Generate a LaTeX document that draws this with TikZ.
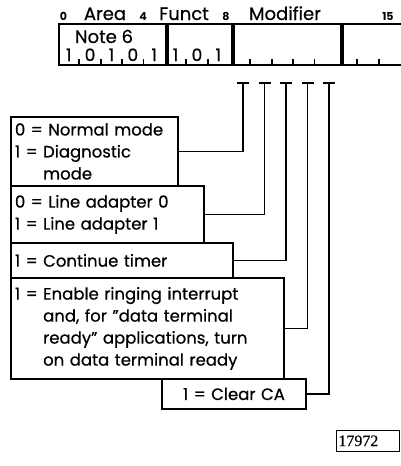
\documentclass[tikz,border=0pt]{standalone}
\usepackage{fontspec}
\setmainfont{Poppins}[UprightFeatures={FakeBold=0.6}]
\newfontfamily\numfont{Liberation Serif}[FakeBold=0.4]
\usetikzlibrary{positioning}

\begin{document}
\begin{tikzpicture}[x=1pt, y=-1pt, line width=1.9pt,
          fld/.style={draw, inner sep=0pt, minimum height=41pt, anchor=north west},
          bx/.style={draw, inner sep=4pt, anchor=north west, align=left,
                     font=\fontsize{16.5}{22}\selectfont},
          hd/.style={font=\fontsize{18}{20}\selectfont, anchor=base},
          dg/.style={font=\fontsize{17}{20}\selectfont, anchor=base},
          bn/.style={font=\fontsize{11}{12}\selectfont\bfseries, anchor=base},
          idbox/.style={draw, line width=0.7pt, inner sep=2pt, anchor=north west,
                        text width=59pt, minimum height=21pt, font=\numfont\fontsize{16}{17}\selectfont}]
        \useasboundingbox (0,0) rectangle (401,466);
        % register fields
        \node[fld, minimum width=107pt] (area) at (58,23) {};
        \node[fld, minimum width=64pt, right=0pt of area] (funct) {};
        \node[fld, minimum width=107pt, right=0pt of funct] (mod) {};
        \node[fld, minimum width=64pt, right=0pt of mod] (modb) {};
        % bit numbers and field names
        \node[bn] (b0) at (63.5,20) {0};
        \node[hd] (harea) at (105,20) {Area};
        \node[bn] (b4) at (143,20) {4};
        \node[hd] (hfunct) at (184,20) {Funct};
        \node[bn] (b8) at (226,20) {8};
        \node[hd] (hmod) at (285,20) {Modifier};
        \node[bn] (b15) at (388,20) {15};
        \node[hd] (note) at (104,43) {Note 6};
        % bit values
        \foreach \v [count=\k from 0] in {1,0,1,0,1,1,0,1}
          \node[dg] (d\k) at (58+21.375*\k+10.7,61) {\v};
        \foreach \k in {1,2,3,4,6,7,9,10,11,12,14,15}
          \draw (58+21.375*\k,64) -- ++(0,-5);
        % description boxes
        \node[bx, text width=159pt, minimum height=69pt] (mode) at (10,116)
            {0 = Normal mode\\1 = Diagnostic\\\phantom{1 = }mode};
        \node[bx, text width=185pt, minimum height=57pt] (line) at (10,185)
            {0 = Line adapter 0\\1 = Line adapter 1};
        \node[bx, text width=214pt, minimum height=35pt] (timer) at (10,242)
            {1 = Continue timer};
        \node[bx, text width=265pt, minimum height=101pt] (ring) at (10,277)
            {1 = Enable ringing interrupt\\\phantom{1 = }and, for \symbol{34}data terminal\\\phantom{1 = }ready\symbol{34} applications, turn\\\phantom{1 = }on data terminal ready};
        \node[bx, text width=136pt, minimum height=30pt, align=center] (clear) at (161,378)
            {1 = Clear CA};
        \node[idbox] (fig) at (336,430) {17972};
        % connectors from modifier bits
        \foreach \n/\x/\b in {1/243/mode, 2/264.5/line, 3/286/timer, 4/307.5/ring, 5/329/clear} {
          \coordinate (t\n) at (\x,83);
          \draw (t\n) ++(-6,0) -- ++(12,0);
          \draw (t\n) |- (\b.east);
        }
      \end{tikzpicture}
\end{document}
